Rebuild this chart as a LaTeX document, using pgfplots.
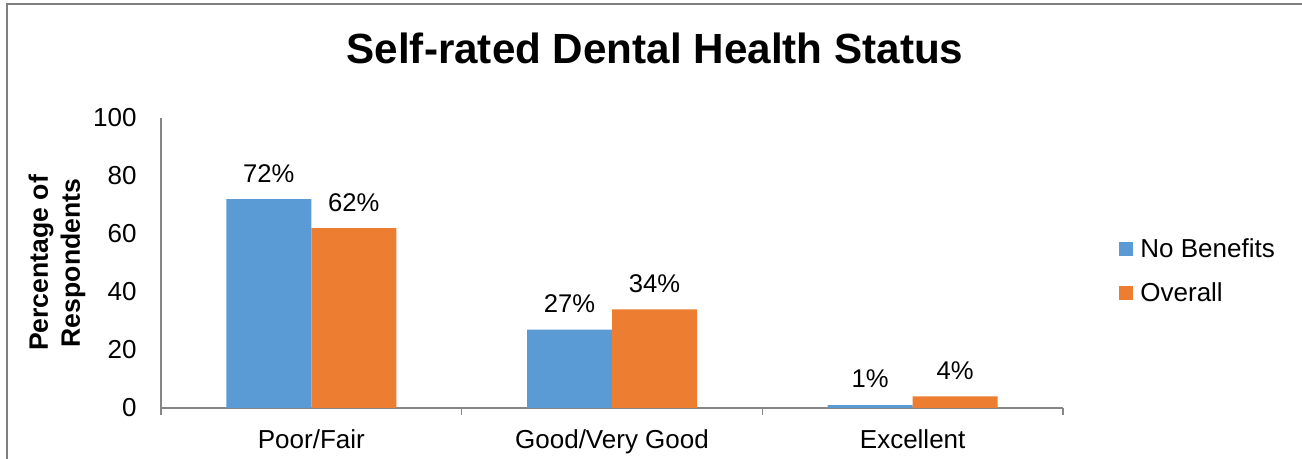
\documentclass[border=0pt]{standalone}
\usepackage{pgfplots}
\pgfplotsset{compat=1.18}
\usepackage{fontspec}
\setmainfont{Liberation Sans}
\definecolor{cblue}{HTML}{5B9BD5}
\definecolor{corange}{HTML}{ED7D31}
\definecolor{axgray}{HTML}{868686}
\definecolor{framegray}{HTML}{7F7F7F}

\begin{document}
\begin{tikzpicture}
\useasboundingbox (0,0) rectangle (651pt,-229.5pt);
\draw[framegray, line width=0.7pt] (3.5pt,-229.5pt) -- (3.5pt,-2pt) -- (651pt,-2pt);
\node[font=\fontsize{21.1}{25}\selectfont\bfseries, inner sep=0pt] at (327.5pt,-24pt) {Self-rated Dental Health Status};
\begin{axis}[
  at={(80.5pt,-204pt)}, anchor=south west,
  scale only axis, width=451pt, height=145pt,
  ybar=0pt, bar width=42.5pt,
  xmin=-0.5, xmax=2.5, ymin=0, ymax=100,
  xtick={0,1,2}, xticklabels={Poor/Fair, Good/Very Good, Excellent},
  minor xtick={-0.5,0.5,1.5,2.5},
  ytick={0,20,40,60,80,100},
  axis x line*=bottom, axis y line*=left,
  axis line style={axgray, line width=0.75pt, -},
  tick align=outside,
  major tick length=0pt, minor tick length=3.5pt,
  minor tick style={axgray, line width=0.75pt},
  font=\fontsize{13}{15}\selectfont,
  tick label style={font=\fontsize{13}{15}\selectfont, inner sep=0pt},
  xticklabel style={anchor=base, yshift=-20.4pt},
  yticklabel style={anchor=east, xshift=-12pt},
  /pgf/number format/assume math mode=true,
  ylabel={Percentage of\\Respondents},
  ylabel style={at={(axis description cs:-0.1153,0.5)}, anchor=center, align=center, font=\fontsize{13.3}{16}\selectfont\bfseries},
  nodes near coords={\pgfmathprintnumber{\pgfplotspointmeta}\%},
  every node near coord/.append style={anchor=center, yshift=13pt, font=\fontsize{12.8}{15}\selectfont, text=black},
  legend style={at={(1.0621,0.5828)}, anchor=north west, draw=none, fill=none, inner sep=0pt, row sep=12.7pt, column sep=3.5pt, font=\fontsize{13}{15}\selectfont, nodes={inner sep=0pt, text height=9.3pt, text depth=0pt}},
  legend cell align=left,
  legend image code/.code={\fill[#1] (0pt,-3.5pt) rectangle (7pt,3.5pt);},
]
\addplot[fill=cblue, draw=none] coordinates {(0,72) (1,27) (2,1)};
\addplot[fill=corange, draw=none] coordinates {(0,62) (1,34) (2,4)};
\legend{No Benefits, Overall}
\end{axis}
\end{tikzpicture}
\end{document}
